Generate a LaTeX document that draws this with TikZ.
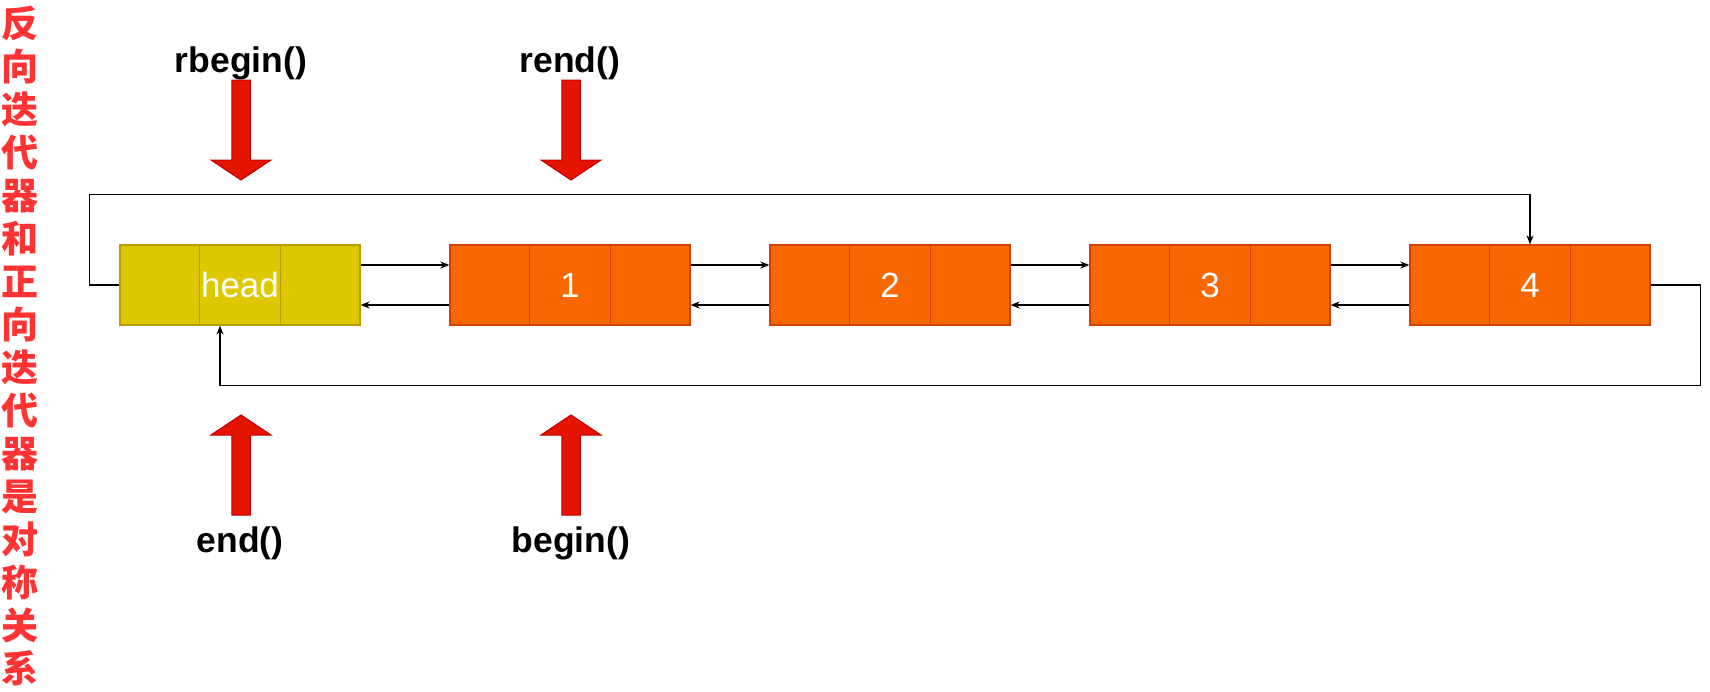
\documentclass[tikz,border=0pt]{standalone}
\usepackage{fontspec}
\setmainfont{Liberation Sans}
\newfontfamily\cjk{Noto Sans CJK SC}
\usetikzlibrary{arrows.meta}

\definecolor{headfill}{RGB}{224,200,0}
\definecolor{headline}{RGB}{184,158,0}
\definecolor{nodefill}{RGB}{249,104,0}
\definecolor{nodeline}{RGB}{214,64,0}
\definecolor{arrowred}{RGB}{228,20,0}
\definecolor{arrowline}{RGB}{196,0,0}
\definecolor{titlered}{RGB}{255,51,51}

\tikzset{
  listnode/.style={draw=nodeline, fill=nodefill, line width=1.3pt, minimum width=240pt, minimum height=80pt, inner sep=0pt, text=white, font=\fontsize{35}{40}\selectfont},
  headnode/.style={listnode, draw=headline, fill=headfill},
  link/.style={line width=1.3pt, -{Stealth[length=9pt,width=7pt]}},
  iterlabel/.style={anchor=base, inner sep=0pt, font=\bfseries\fontsize{35.5}{40}\selectfont},
  bigarrow/.style={fill=arrowred, draw=arrowline, line width=1pt}
}

\begin{document}
\begin{tikzpicture}[x=1pt,y=-1pt]
\useasboundingbox (0,0) rectangle (1710,691);
\node [inner sep=0pt, align=center, text=titlered, font=\cjk\bfseries\fontsize{37}{43}\selectfont] (title) at (20,346) {反\\向\\迭\\代\\器\\和\\正\\向\\迭\\代\\器\\是\\对\\称\\关\\系};
\node [headnode] (head) at (240,285) {head};
\node [listnode, right of=head, node distance=330pt] (n1) {1};
\node [listnode, right of=n1, node distance=320pt] (n2) {2};
\node [listnode, right of=n2, node distance=320pt] (n3) {3};
\node [listnode, right of=n3, node distance=320pt] (n4) {4};
% cell borders
\foreach \n/\c in {head/headline,n1/nodeline,n2/nodeline,n3/nodeline,n4/nodeline} {
  \draw [\c, line width=1.3pt] ([xshift=80pt]\n.north west) -- ([xshift=80pt]\n.south west);
  \draw [\c, line width=1.3pt] ([xshift=-80pt]\n.north east) -- ([xshift=-80pt]\n.south east);
}
% next / prev
\foreach \a/\b in {head/n1,n1/n2,n2/n3,n3/n4} {
  \draw [link] ([yshift=20pt]\a.east) -- ([yshift=20pt]\b.west);
  \draw [link] ([yshift=-20pt]\b.west) -- ([yshift=-20pt]\a.east);
}
\draw [link] (head.west) -- ++(-30,0) |- ([yshift=50pt]n4.north) -- (n4.north);
\draw [link] (n4.east) -- ++(50,0) |- ([xshift=-20pt,yshift=-60pt]head.south) -- ([xshift=-20pt]head.south);
% iterators
\node [iterlabel] (rbegin) at (241,72) {rbegin()};
\node [iterlabel] (rend) at (570,72) {rend()};
\node [iterlabel] (end) at (240,552) {end()};
\node [iterlabel] (begin) at (571,552) {begin()};
\filldraw [bigarrow] (241,180) -- ++(-30,-20) -- ++(20.75,0) -- ++(0,-80) -- ++(18.5,0) -- ++(0,80) -- ++(20.75,0) -- cycle;
\filldraw [bigarrow] (571,180) -- ++(-30,-20) -- ++(20.75,0) -- ++(0,-80) -- ++(18.5,0) -- ++(0,80) -- ++(20.75,0) -- cycle;
\filldraw [bigarrow] (241,415) -- ++(-30,20) -- ++(20.75,0) -- ++(0,80) -- ++(18.5,0) -- ++(0,-80) -- ++(20.75,0) -- cycle;
\filldraw [bigarrow] (571,415) -- ++(-30,20) -- ++(20.75,0) -- ++(0,80) -- ++(18.5,0) -- ++(0,-80) -- ++(20.75,0) -- cycle;
\end{tikzpicture}
\end{document}
